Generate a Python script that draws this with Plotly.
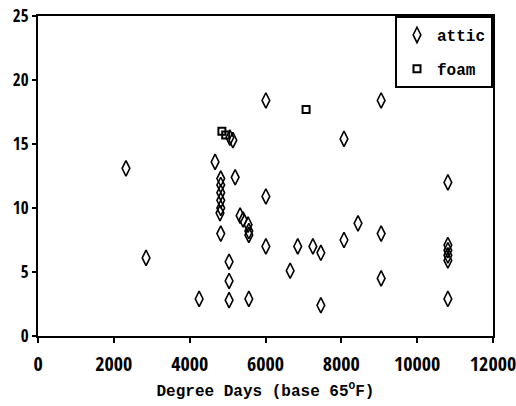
import plotly.graph_objects as go

attic_x = [2320, 2850, 4250, 4670, 4820, 4820, 4820, 4820, 4820, 4800, 4820,
           5040, 5040, 5040, 5200, 5060, 5140, 5330, 5410, 5540, 5560, 5560,
           5560, 6010, 6010, 6010, 6650, 6850, 7250, 7460, 7460, 8070, 8070,
           8440, 9050, 9050, 9050, 10810, 10810, 10810, 10810, 10810, 10810]
attic_y = [13.1, 6.1, 2.9, 13.6, 12.3, 11.8, 11.2, 10.6, 10.0, 9.6, 8.0,
           5.8, 4.3, 2.8, 12.4, 15.5, 15.3, 9.4, 9.1, 8.7, 8.2, 7.9,
           2.9, 18.4, 10.9, 7.0, 5.1, 7.0, 7.0, 6.5, 2.4, 15.4, 7.5,
           8.8, 18.4, 8.0, 4.5, 12.0, 7.1, 6.7, 6.3, 5.9, 2.9]

foam_x = [4850, 4950, 7070]
foam_y = [16.0, 15.7, 17.7]

x_ticks = [0, 2000, 4000, 6000, 8000, 10000, 12000]
y_ticks = [0, 5, 10, 15, 20, 25]

cond = "Open Sans Condensed, DejaVu Sans Condensed, sans-serif"
mono = "Liberation Mono, DejaVu Sans Mono, monospace"

fig = go.Figure()
fig.add_trace(go.Scatter(
    x=attic_x, y=attic_y, mode="markers", name="attic", legendgroup="a",
    marker=dict(symbol="diamond-tall-open", size=11, color="black",
                line=dict(width=1.6, color="black")),
))
fig.add_trace(go.Scatter(
    x=foam_x, y=foam_y, mode="markers", name="foam", legendgroup="f",
    marker=dict(symbol="square-open", size=7, color="black",
                line=dict(width=2, color="black")),
))

fig.update_layout(
    width=516, height=406,
    margin=dict(l=38, r=23, t=16, b=70),
    paper_bgcolor="white", plot_bgcolor="white",
    showlegend=True,
    legend=dict(x=1, y=1, xanchor="right", yanchor="top",
                bordercolor="black", borderwidth=2, bgcolor="white",
                font=dict(family=mono, size=16, color="black", weight="bold"),
                tracegroupgap=10, traceorder="grouped"),
    xaxis=dict(range=[0, 12000], tickvals=x_ticks, ticktext=[str(v) for v in x_ticks],
               showgrid=False, zeroline=False, showline=True, linecolor="black",
               linewidth=2, mirror=True, ticks="outside", ticklen=5, tickwidth=1.5,
               tickcolor="black", automargin=False, ticklabeloverflow="allow",
               ticklabelstandoff=4,
               tickfont=dict(family=cond, size=20, color="black", weight="bold"),
               title=dict(text="Degree Days (base 65<sup>O</sup>F)",
                          font=dict(family=mono, size=16, color="black", weight="bold"),
                          standoff=9)),
    yaxis=dict(range=[0, 25], tickvals=y_ticks, ticktext=[str(v) for v in y_ticks],
               showgrid=False, zeroline=False, showline=True, linecolor="black",
               linewidth=2, mirror=True, ticks="outside", ticklen=4, tickwidth=1.5,
               tickcolor="black", automargin=False, ticklabeloverflow="allow",
               tickfont=dict(family=cond, size=17, color="black", weight="bold")),
)

fig.write_html("out.html", config={"displayModeBar": False})

# remove the browser's default 8px body margin so the figure fills the window
with open("out.html", "r", encoding="utf-8") as fh:
    html = fh.read()
html = html.replace("<body>", '<body style="margin:0;overflow:hidden">', 1)
with open("out.html", "w", encoding="utf-8") as fh:
    fh.write(html)
